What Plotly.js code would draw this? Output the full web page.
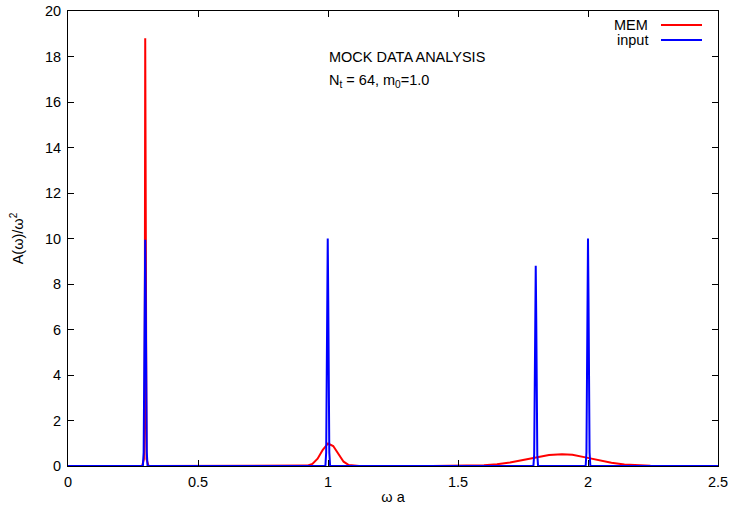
<!DOCTYPE html>
<html>
<head>
<meta charset="utf-8">
<script src="https://cdn.plot.ly/plotly-3.0.1.min.js"></script>
<style>html,body{margin:0;padding:0;background:#fff;}#chart{width:734px;height:509px;}</style>
</head>
<body>
<div id="chart"></div>
<script>
// MEM reconstruction (red)
const memX = [0, 0.285, 0.292, 0.295, 0.297, 0.299, 0.302, 0.31,
  0.88, 0.90, 0.92, 0.94, 0.96, 0.98, 1.00, 1.02, 1.04, 1.06, 1.08, 1.10, 1.12,
  1.40, 1.45, 1.50, 1.55, 1.60, 1.65, 1.70, 1.75, 1.80, 1.85, 1.90, 1.94, 1.99, 2.04, 2.09, 2.14, 2.19, 2.24, 2.29, 2.34, 2.40, 2.5];
const memY = [0, 0, 0.3, 2.5, 18.8, 2.5, 0.3, 0,
  0, 0.002, 0.018, 0.095, 0.32, 0.71, 0.99, 0.88, 0.51, 0.19, 0.044, 0.007, 0,
  0, 0.002, 0.006, 0.015, 0.035, 0.075, 0.15, 0.26, 0.38, 0.48, 0.52, 0.49, 0.38, 0.25, 0.14, 0.065, 0.027, 0.009, 0.003, 0.001, 0, 0];

// input spectrum (blue)
const inpX = [0, 0.288, 0.291, 0.293, 0.295, 0.297, 0.299, 0.301, 0.303, 0.306,
  0.990, 0.993, 0.995, 0.997, 0.999, 1.001, 1.003, 1.005, 1.008,
  1.790, 1.793, 1.795, 1.797, 1.799, 1.801, 1.803, 1.805, 1.808,
  1.991, 1.994, 1.996, 1.998, 2.000, 2.002, 2.004, 2.006, 2.009, 2.5];
const inpY = [0, 0, 0.6, 2.8, 7.3, 9.95, 7.3, 2.8, 0.6, 0,
  0, 0.6, 2.8, 7.3, 10, 7.3, 2.8, 0.6, 0,
  0, 0.5, 2.5, 6.4, 8.8, 6.4, 2.5, 0.5, 0,
  0, 0.6, 2.8, 7.3, 10, 7.3, 2.8, 0.6, 0, 0];

const seriesNames = ['MEM', 'input'];
const xTicks = [0, 0.5, 1, 1.5, 2, 2.5];
const xTickText = ['0', '0.5', '1', '1.5', '2', '2.5'];
const yTicks = [0, 2, 4, 6, 8, 10, 12, 14, 16, 18, 20];

const font = {family: 'Liberation Sans, Arial, sans-serif', size: 14.5, color: '#000'};

const traces = [
  {x: memX, y: memY, name: seriesNames[0], mode: 'lines', line: {color: '#ff0000', width: 2}},
  {x: inpX, y: inpY, name: seriesNames[1], mode: 'lines', line: {color: '#0000ff', width: 2}}
];

const axisCommon = {
  showgrid: false, zeroline: false, showline: true, linecolor: '#000', linewidth: 1,
  mirror: 'allticks', ticks: 'inside', ticklen: 6, tickcolor: '#000', tickfont: font
};

const PX = (p) => (p - 68) / 650;
const PY = (p) => (466 - p) / 455;

const layout = {
  width: 734, height: 509,
  margin: {l: 68, r: 16, t: 11, b: 43},
  paper_bgcolor: '#fff', plot_bgcolor: '#fff',
  font: font,
  showlegend: false,
  xaxis: Object.assign({}, axisCommon, {
    range: [0, 2.5], tickvals: xTicks, ticktext: xTickText, ticklabelstandoff: 3,
    title: {text: 'ω a', font: font, standoff: 2}
  }),
  yaxis: Object.assign({}, axisCommon, {
    range: [0, 20], tickvals: yTicks, ticklabelstandoff: 3,
    title: {text: 'A(ω)/ω<sup>2</sup>', font: font, standoff: 17}
  }),
  annotations: [
    {xref: 'paper', yref: 'paper', x: PX(650), y: PY(25), xanchor: 'right', yanchor: 'middle',
     text: seriesNames[0], showarrow: false, font: font},
    {xref: 'paper', yref: 'paper', x: PX(650), y: PY(40), xanchor: 'right', yanchor: 'middle',
     text: seriesNames[1], showarrow: false, font: font},
    {xref: 'paper', yref: 'paper', x: PX(327), y: PY(57), xanchor: 'left', yanchor: 'middle',
     text: 'MOCK DATA ANALYSIS', showarrow: false, font: font},
    {xref: 'paper', yref: 'paper', x: PX(327), y: PY(81), xanchor: 'left', yanchor: 'middle',
     text: 'N<sub>t</sub> = 64, m<sub>0</sub>=1.0', showarrow: false, font: font}
  ],
  shapes: [
    {type: 'line', xref: 'paper', yref: 'paper', x0: PX(661), x1: PX(702),
     y0: PY(25), y1: PY(25), line: {color: '#ff0000', width: 2}},
    {type: 'line', xref: 'paper', yref: 'paper', x0: PX(661), x1: PX(702),
     y0: PY(40), y1: PY(40), line: {color: '#0000ff', width: 2}}
  ]
};

Plotly.newPlot('chart', traces, layout, {displayModeBar: false, staticPlot: true});
</script>
</body>
</html>
